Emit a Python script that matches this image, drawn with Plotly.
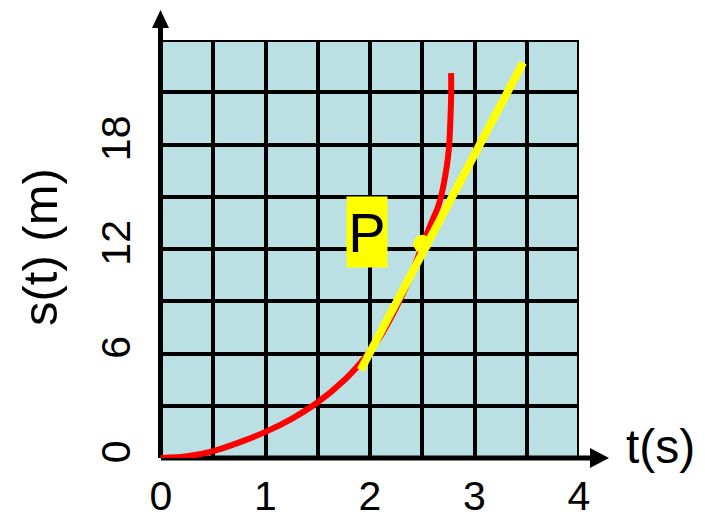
import plotly.graph_objects as go

# position curve s(t)
t_curve = [0, 0.25, 0.5, 0.75, 1.0, 1.25, 1.5, 1.75, 1.9, 2.0, 2.1, 2.2, 2.3, 2.4, 2.5,
           2.58, 2.65, 2.68, 2.72, 2.745, 2.758, 2.77, 2.777, 2.776]
s_curve = [0, 0.1, 0.4, 0.9, 1.5, 2.25, 3.2, 4.45, 5.4, 6.15, 7.0, 8.05, 9.25, 10.6, 12.2,
           13.4, 14.4, 15.0, 16.2, 17.2, 18.0, 19.5, 21.0, 22.1]

# tangent line at P
t_tangent = [1.91, 3.465]
s_tangent = [5.05, 22.7]

# point P
t_p = [2.5]
s_p = [12.3]

x_ticks = [0, 1, 2, 3, 4]
y_ticks = [0, 6, 12, 18]

FONT = "Liberation Sans, Arial, sans-serif"

fig = go.Figure()
fig.add_trace(go.Scatter(x=t_curve, y=s_curve, mode="lines",
                         line=dict(color="#ff0000", width=6, shape="spline", smoothing=0.8),
                         hoverinfo="skip"))
fig.add_trace(go.Scatter(x=t_tangent, y=s_tangent, mode="lines",
                         line=dict(color="#ffff00", width=8), hoverinfo="skip"))
fig.add_trace(go.Scatter(x=t_p, y=s_p, mode="markers",
                         marker=dict(color="#ffff00", size=18), hoverinfo="skip"))

W, H = 705, 518
L, R, T, B = 161, 126, 40, 60
pw, ph = W - L - R, H - T - B

shapes = [
    # border of the grid
    dict(type="rect", xref="x", yref="y", x0=0, x1=4, y0=0, y1=24,
         line=dict(color="black", width=4), layer="between"),
    # axis lines
    dict(type="line", xref="paper", yref="paper", x0=0, x1=(592 - L) / pw, y0=0, y1=0,
         line=dict(color="black", width=5), layer="between"),
    dict(type="line", xref="paper", yref="paper", x0=-0.5 / pw, x1=-0.5 / pw, y0=0,
         y1=(H - B - 26) / ph, line=dict(color="black", width=5), layer="between"),
    # arrowheads
    dict(type="path", xref="paper", yref="paper",
         path=f"M {(590 - L) / pw} {10 / ph} L {(609 - L) / pw} 0 L {(590 - L) / pw} {-10 / ph} Z",
         fillcolor="black", line=dict(width=0)),
    dict(type="path", xref="paper", yref="paper",
         path=f"M {-9 / pw} {(H - B - 28) / ph} L {-0.5 / pw} {(H - B - 10) / ph} L {8 / pw} {(H - B - 28) / ph} Z",
         fillcolor="black", line=dict(width=0)),
]

annotations = [
    dict(text="P", x=1.971, y=12.97, xref="x", yref="y", showarrow=False,
         xanchor="center", yanchor="middle",
         font=dict(family=FONT, size=56, color="black"), bgcolor="#ffff00",
         width=40, height=70, borderpad=0),
    dict(text="t(s)", x=(660 - L) / pw, y=(H - B - 446) / ph, xref="paper", yref="paper",
         xanchor="center", yanchor="middle",
         showarrow=False, font=dict(family=FONT, size=48, color="black")),
    dict(text="s(t) (m)", x=(40 - L) / pw, y=(H - B - 247) / ph, xref="paper", yref="paper",
         xanchor="center", yanchor="middle",
         showarrow=False, textangle=-90, font=dict(family=FONT, size=49, color="black")),
]

fig.update_layout(
    template="none",
    width=W, height=H,
    margin=dict(l=L, r=R, t=T, b=B, autoexpand=False),
    paper_bgcolor="white",
    plot_bgcolor="#bae0e3",
    showlegend=False,
    shapes=shapes,
    annotations=annotations,
    xaxis=dict(range=[0, 4], tickvals=x_ticks, ticktext=[str(v) for v in x_ticks],
               automargin=False,
               showgrid=True, gridcolor="black", gridwidth=4, zeroline=False,
               showline=False, ticks="", ticklabelstandoff=10,
               tickfont=dict(family=FONT, size=41, color="black"),
               minor=dict(dtick=0.5, tick0=0, showgrid=True, gridcolor="black", gridwidth=4),
               fixedrange=True),
    yaxis=dict(range=[0, 24], tickvals=y_ticks, ticktext=[str(v) for v in y_ticks],
               automargin=False,
               showgrid=True, gridcolor="black", gridwidth=4, zeroline=False,
               showline=False, ticks="", tickangle=-90, ticklabelstandoff=22,
               tickfont=dict(family=FONT, size=41, color="black"),
               minor=dict(dtick=3, tick0=0, showgrid=True, gridcolor="black", gridwidth=4),
               fixedrange=True),
)

fig.write_html("out.html")
